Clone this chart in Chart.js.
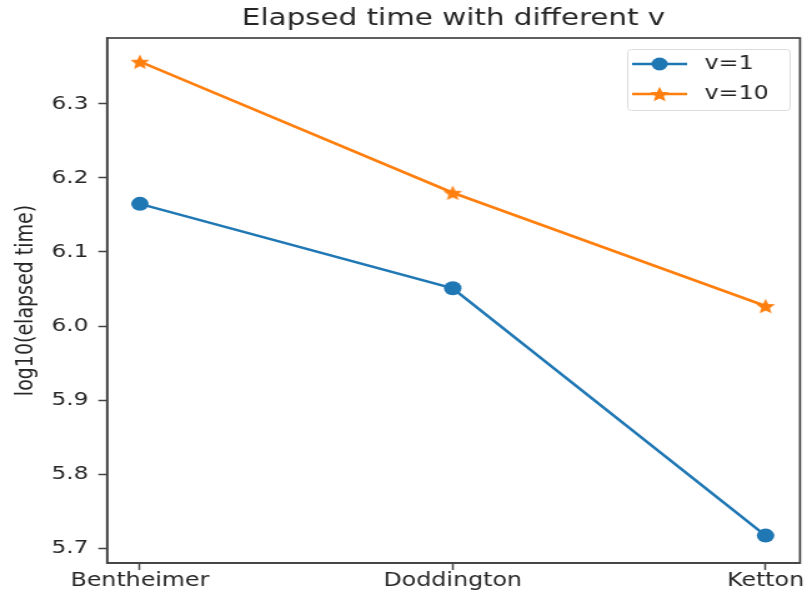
<!DOCTYPE html>
<html>
<head>
<meta charset="utf-8">
<script src="https://cdn.jsdelivr.net/npm/chart.js@4"></script>
<style>
  html, body { margin: 0; padding: 0; background: #fff; overflow: hidden; }
  /* the reference is stretched sideways, so draw narrow and widen it */
  #wrap { width: 650px; height: 593px; transform: scaleX(1.2492); transform-origin: 0 0; }
</style>
</head>
<body>
<div id="wrap"><canvas id="elapsedChart" width="650" height="593"></canvas></div>
<script>
// Data
var categories = ["Bentheimer", "Doddington", "Ketton"];
var seriesNames = ["v=1", "v=10"];
var v1Values = [6.165, 6.051, 5.717];
var v10Values = [6.357, 6.180, 6.027];
var yTicks = [5.7, 5.8, 5.9, 6.0, 6.1, 6.2, 6.3];

var blue = "#1f77b4";
var orange = "#ff7f0e";
var textColor = "#262626";
var spineColor = "#444";

// filled star marker like matplotlib's '*'
function makeStar(color, r) {
    var c = document.createElement("canvas");
    var s = Math.ceil(r * 2 + 2);
    c.width = s; c.height = s;
    var g = c.getContext("2d");
    g.fillStyle = color;
    g.beginPath();
    for (var i = 0; i < 10; i++) {
        var rad = i % 2 === 0 ? r : r * 0.45;
        var a = -Math.PI / 2 + i * Math.PI / 5;
        var px = s / 2 + rad * Math.cos(a);
        var py = s / 2 + rad * Math.sin(a) + r * 0.1;
        if (i === 0) g.moveTo(px, py); else g.lineTo(px, py);
    }
    g.closePath();
    g.fill();
    return c;
}
var starMarker = makeStar(orange, 8);

function toPoints(values) {
    return values.map(function (v, i) { return { x: i, y: v }; });
}

// box around the plot area (all four spines)
var frame = {
    id: "frame",
    afterDatasetsDraw: function (chart) {
        var a = chart.chartArea, ctx = chart.ctx;
        ctx.save();
        ctx.strokeStyle = spineColor;
        ctx.lineWidth = 1.7;
        ctx.strokeRect(a.left, a.top, a.right - a.left, a.bottom - a.top);
        ctx.restore();
    }
};

// title centred over the plot area, and legend box in the upper right
var extras = {
    id: "extras",
    afterDraw: function (chart) {
        var a = chart.chartArea, ctx = chart.ctx;
        ctx.save();
        ctx.fillStyle = textColor;
        ctx.font = "23.5px 'DejaVu Sans'";
        ctx.textAlign = "center";
        ctx.textBaseline = "middle";
        ctx.fillText("Elapsed time with different v", (a.left + a.right) / 2, 19);

        // legend
        var bx = 502, by = 49, bw = 130, bh = 61;
        ctx.fillStyle = "rgba(255,255,255,0.8)";
        ctx.strokeStyle = "#dcdcdc";
        ctx.lineWidth = 1;
        ctx.beginPath();
        ctx.roundRect(bx + 0.5, by + 0.5, bw, bh, 3);
        ctx.fill();
        ctx.stroke();
        chart.data.datasets.forEach(function (ds, i) {
            var ly = by + 15 + i * 30;
            ctx.strokeStyle = ds.borderColor;
            ctx.lineWidth = 2.6;
            ctx.beginPath();
            ctx.moveTo(bx + 4, ly);
            ctx.lineTo(bx + 48, ly);
            ctx.stroke();
            if (ds.pointStyle === "circle") {
                ctx.fillStyle = ds.borderColor;
                ctx.beginPath();
                ctx.arc(bx + 26, ly, 6.5, 0, Math.PI * 2);
                ctx.fill();
            } else {
                ctx.drawImage(ds.pointStyle, bx + 26 - starMarker.width / 2, ly - starMarker.height / 2);
            }
            ctx.fillStyle = textColor;
            ctx.font = "19px 'DejaVu Sans'";
            ctx.textAlign = "left";
            ctx.fillText(ds.label, bx + 62, ly);
        });
        ctx.restore();
    }
};

var ctx = document.getElementById("elapsedChart").getContext("2d");
var chart = new Chart(ctx, {
    type: "line",
    data: {
        datasets: [{
            label: seriesNames[0],
            data: toPoints(v1Values),
            borderColor: blue,
            backgroundColor: blue,
            borderWidth: 2.6,
            pointStyle: "circle",
            pointRadius: 7,
            pointBorderWidth: 0,
            tension: 0
        }, {
            label: seriesNames[1],
            data: toPoints(v10Values),
            borderColor: orange,
            backgroundColor: orange,
            borderWidth: 2.6,
            pointStyle: starMarker,
            tension: 0
        }]
    },
    options: {
        responsive: false,
        animation: false,
        layout: { padding: { top: 38, right: 9.6, left: 0, bottom: 0 } },
        plugins: {
            legend: { display: false },
            tooltip: { enabled: false }
        },
        scales: {
            x: {
                type: "linear",
                min: -0.105,
                max: 2.11,
                afterBuildTicks: function (scale) {
                    scale.ticks = categories.map(function (c, i) { return { value: i }; });
                },
                afterFit: function (scale) { scale.height = 30; },
                ticks: {
                    callback: function (v) { return categories[v]; },
                    color: textColor,
                    font: { family: "DejaVu Sans", size: 19 },
                    padding: 0,
                    maxRotation: 0
                },
                grid: { drawOnChartArea: false, tickLength: 7, color: spineColor, tickWidth: 1.5 },
                border: { color: spineColor, width: 1.7 }
            },
            y: {
                min: 5.68,
                max: 6.389,
                afterBuildTicks: function (scale) {
                    scale.ticks = yTicks.map(function (v) { return { value: v }; });
                },
                afterFit: function (scale) { scale.width = 85.7; },
                ticks: {
                    callback: function (v) { return v.toFixed(1); },
                    color: textColor,
                    font: { family: "DejaVu Sans", size: 18.5 },
                    padding: 8
                },
                title: {
                    display: true,
                    text: "log10(elapsed time)",
                    color: textColor,
                    font: { family: "DejaVu Sans", size: 19 },
                    padding: { top: 10, bottom: 0 }
                },
                grid: { drawOnChartArea: false, tickLength: 7, color: spineColor, tickWidth: 1.5 },
                border: { color: spineColor, width: 1.7 }
            }
        }
    },
    plugins: [frame, extras]
});
</script>
</body>
</html>
